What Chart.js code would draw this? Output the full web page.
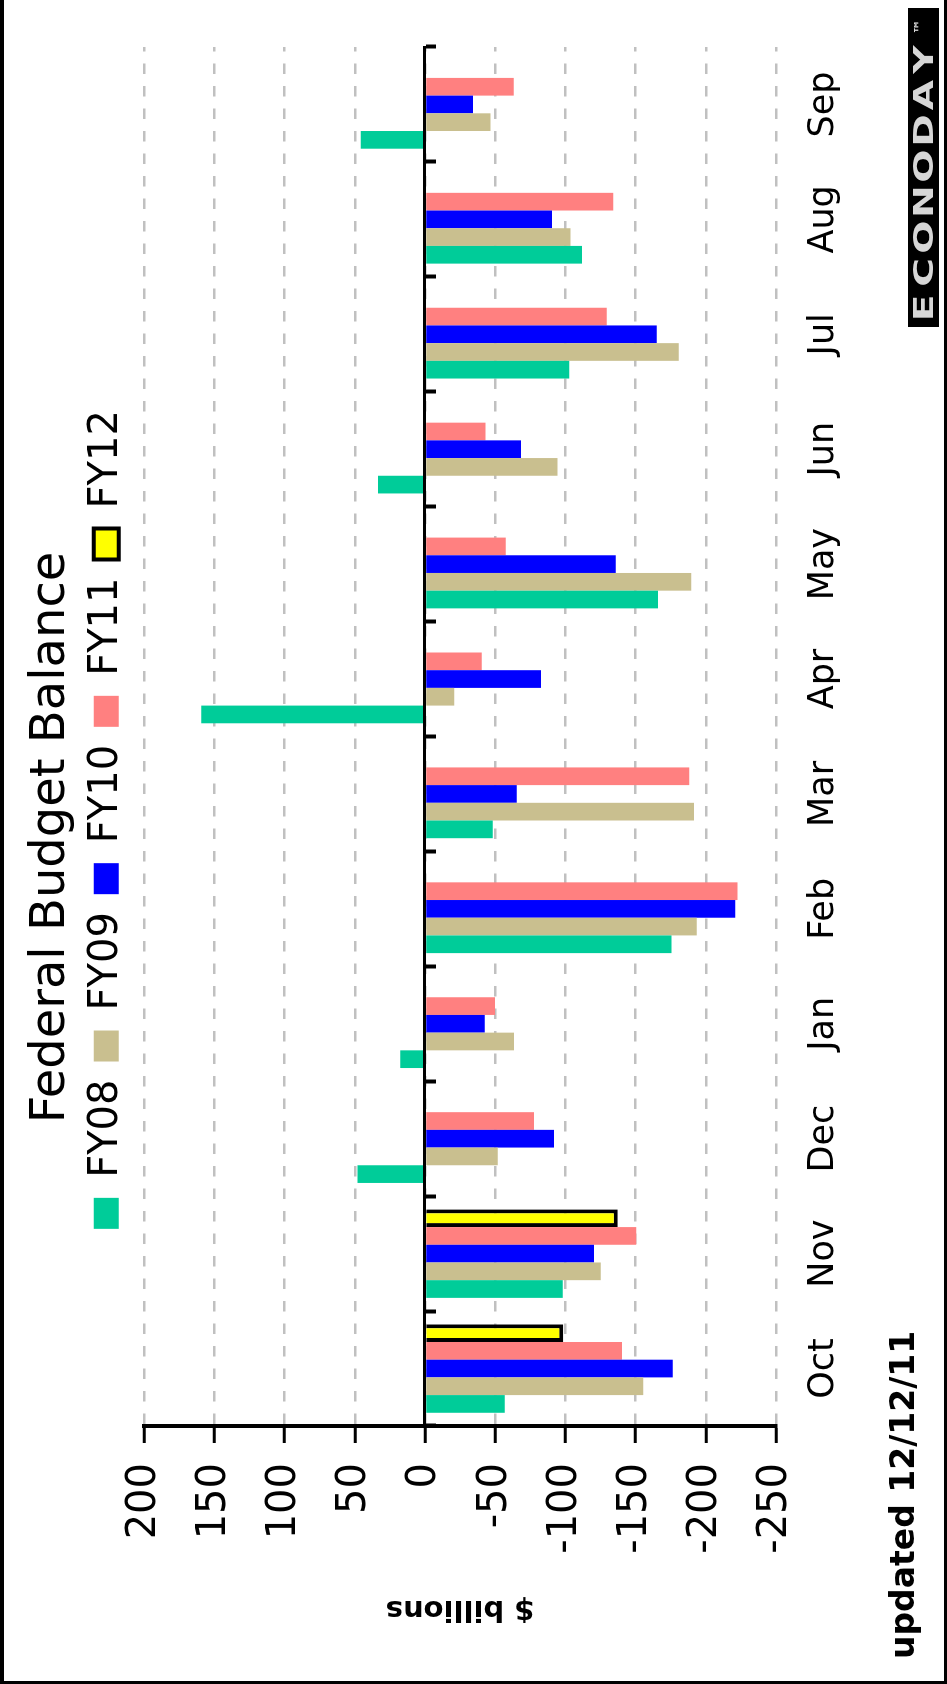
<!DOCTYPE html>
<html>
<head>
<meta charset="utf-8">
<title>Federal Budget Balance</title>
<script src="https://cdn.jsdelivr.net/npm/chart.js@4.4.1/dist/chart.umd.min.js"></script>
<style>
  html, body { margin: 0; padding: 0; background: #fff; overflow: hidden; }
  #page { position: relative; width: 947px; height: 1684px; overflow: hidden; background: #fff; }
  /* the chart is drawn landscape and turned a quarter counter-clockwise */
  #turn { position: absolute; left: 0; top: 0; width: 1684px; height: 947px;
          transform-origin: 0 0; transform: translateY(1684px) rotate(-90deg); }
  #turn canvas { display: block; }
  #frame { position: absolute; left: 0; top: 0; width: 947px; height: 1684px; box-sizing: border-box;
           border-left: 4px solid #000; border-right: 3px solid #000; border-bottom: 3px solid #000;
           pointer-events: none; }
</style>
</head>
<body>
<div id="page">
  <div id="turn"><canvas id="budgetChart" width="1684" height="947"></canvas></div>
  <div id="frame"></div>
</div>
<script>
const months = ['Oct', 'Nov', 'Dec', 'Jan', 'Feb', 'Mar', 'Apr', 'May', 'Jun', 'Jul', 'Aug', 'Sep'];

// $ billions, Oct..Sep of each fiscal year
const fy08 = [-56.8, -98.2, 48.1, 17.7, -175.6, -48.2, 159.3, -165.9, 33.5, -102.8, -111.9, 45.7];
const fy09 = [-155.5, -125.2, -51.8, -63.4, -193.5, -191.6, -20.9, -189.7, -94.3, -180.7, -103.6, -46.6];
const fy10 = [-176.4, -120.3, -91.9, -42.6, -220.9, -65.4, -82.7, -135.9, -68.4, -165.0, -90.5, -34.2];
const fy11 = [-140.4, -150.4, -77.7, -49.8, -222.5, -188.2, -40.4, -57.6, -43.1, -129.4, -134.1, -63.2];
const fy12 = [-98.5, -137.3, null, null, null, null, null, null, null, null, null, null];

const yMin = -250;
const yMax = 200;
const yStep = 50;

Chart.defaults.font.family = "'DejaVu Sans', sans-serif";
Chart.defaults.color = '#000';

// nudges title/legend to where they sit in the original, adds the footer texts
const extras = {
  id: 'extras',
  afterLayout(chart) {
    chart.titleBlock.left += 28;
    chart.titleBlock.right += 28;
    chart.legend.left += 46;
    chart.legend.right += 46;
    chart.legend.top -= 8;
    chart.legend.bottom -= 8;
  },
  afterDraw(chart) {
    const c = chart.ctx;
    c.save();
    c.fillStyle = '#000';
    c.font = "bold 33px 'DejaVu Sans'";
    c.textBaseline = 'alphabetic';
    c.fillText('updated 12/12/11', 25, 914);

    // ECONODAY badge
    c.fillRect(1357, 908, 319, 31);
    c.fillStyle = '#d6d6d6';
    c.textAlign = 'center';
    c.font = "bold 27px 'DejaVu Sans'";
    'ECONODAY'.split('').forEach((ch, i) => {
      c.save();
      c.translate(1376 + i * 35.5, 933);
      c.scale(1.45, 1);
      c.fillText(ch, 0, 0);
      c.restore();
    });
    c.font = "bold 15px 'DejaVu Sans'";
    c.fillText('\u2122', 1657, 925);
    c.restore();
  }
};

const bar = { barPercentage: 1.0, categoryPercentage: 0.77, borderWidth: 0, xAxisID: 'x', yAxisID: 'y' };

const ctx = document.getElementById('budgetChart').getContext('2d');

const budgetChart = new Chart(ctx, {
    type: 'bar',
    data: {
        labels: months,
        datasets: [
            { ...bar, label: 'FY08', data: fy08, backgroundColor: '#00cc99' },
            { ...bar, label: 'FY09', data: fy09, backgroundColor: '#c9bf8f' },
            { ...bar, label: 'FY10', data: fy10, backgroundColor: '#0000ff' },
            { ...bar, label: 'FY11', data: fy11, backgroundColor: '#ff8080' },
            { ...bar, label: 'FY12', data: fy12, backgroundColor: '#ffff00', borderColor: '#000', borderWidth: 4 }
        ]
    },
    options: {
        responsive: false,
        animation: false,
        devicePixelRatio: 1,
        layout: { padding: { right: 47 } },
        plugins: {
            title: {
                display: true,
                text: 'Federal Budget Balance',
                color: '#000',
                font: { size: 48, weight: 'normal' },
                padding: { top: 23, bottom: -4.4 }
            },
            legend: {
                position: 'top',
                labels: { boxWidth: 31, boxHeight: 25, padding: 18, color: '#000', font: { size: 40 } }
            },
            tooltip: { enabled: false }
        },
        scales: {
            x: {
                grid: { display: false, drawTicks: false },
                border: { display: false },
                ticks: { font: { size: 35 }, padding: 27, color: '#000', maxRotation: 0, autoSkip: false },
                afterFit: (s) => { s.height = 171; }
            },
            // the category axis line itself sits on the zero value
            x2: {
                position: { y: 0 },
                offset: true,
                grid: { offset: true, drawOnChartArea: false, tickLength: 10, tickWidth: 4, tickColor: '#000', z: 1 },
                border: { color: '#000', width: 3, z: 1 },
                ticks: { display: false }
            },
            y: {
                min: yMin,
                max: yMax,
                ticks: { stepSize: yStep, font: { size: 40 }, padding: 20, color: '#000' },
                grid: { color: '#c0c0c0', lineWidth: 2.5, tickLength: 17, tickWidth: 3, tickColor: '#000' },
                border: { color: '#000', width: 4, dash: [10.5, 12] },
                title: { display: true, text: '$ billions', color: '#000', font: { size: 29, weight: 'bold' }, padding: { top: 58, bottom: 0 } },
                afterFit: (s) => { s.width = 258; }
            }
        }
    },
    plugins: [extras]
});
</script>
</body>
</html>
